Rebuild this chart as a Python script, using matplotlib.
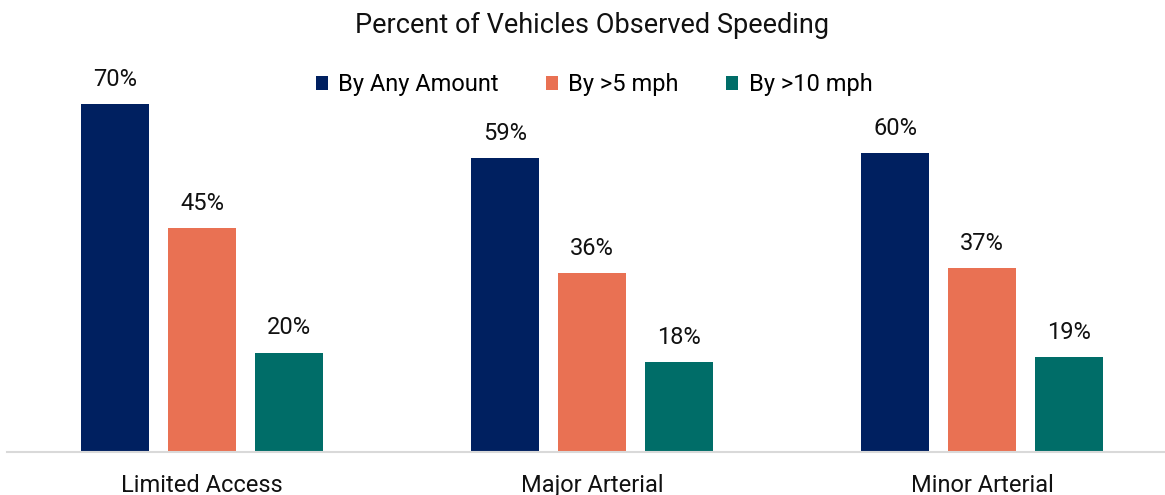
import matplotlib.pyplot as plt
import numpy as np

plt.rcParams['font.family'] = ['Roboto', 'DejaVu Sans']

categorias = ["Limited Access", "Major Arterial", "Minor Arterial"]
series = ["By Any Amount", "By >5 mph", "By >10 mph"]
any_amount = [70, 59, 60]
over_5 = [45, 36, 37]
over_10 = [20, 18, 19]
colores = ["#002060", "#E97153", "#006D68"]

fig = plt.figure(figsize=(11.65, 4.95), dpi=100)
# ejes un poco mas anchos que la figura, la linea base llega al borde
ax = fig.add_axes([7 / 1165, 43 / 495, 1170 / 1165, 398 / 495])

x = np.arange(len(categorias))
ancho = 0.1744
paso = 0.223

for i, (vals, nombre) in enumerate(zip([any_amount, over_5, over_10], series)):
    pos = x + (i - 1) * paso
    barras = ax.bar(pos, vals, width=ancho, color=colores[i], label=nombre)
    for b, v in zip(barras, vals):
        ax.annotate(f"{v}%", (b.get_x() + b.get_width() / 2, v),
                    xytext=(0, 9.5), textcoords="offset points",
                    ha="center", va="bottom", fontsize=17, color="#111111")

ax.set_xlim(-0.5, 2.5)
ax.set_ylim(0, 80)
ax.set_yticks([])
ax.set_xticks(x)
ax.set_xticklabels(categorias, fontsize=17, color="#111111")
ax.tick_params(axis="x", length=0, pad=15.5)
for lado in ["top", "right", "left"]:
    ax.spines[lado].set_visible(False)
ax.spines["bottom"].set_color("#d9d9d9")
ax.spines["bottom"].set_linewidth(1.5)

fig.text(592 / 1165, 1 - 25 / 495, "Percent of Vehicles Observed Speeding",
         ha="center", va="center", fontsize=19.5, color="#111111")

fig.legend(loc="center", bbox_to_anchor=(594 / 1165, 1 - 85 / 495), ncol=3,
           frameon=False, fontsize=17, handlelength=0.5, handleheight=0.5,
           handletextpad=0.45, columnspacing=2.0)

fig.savefig("out.png", dpi=100)
